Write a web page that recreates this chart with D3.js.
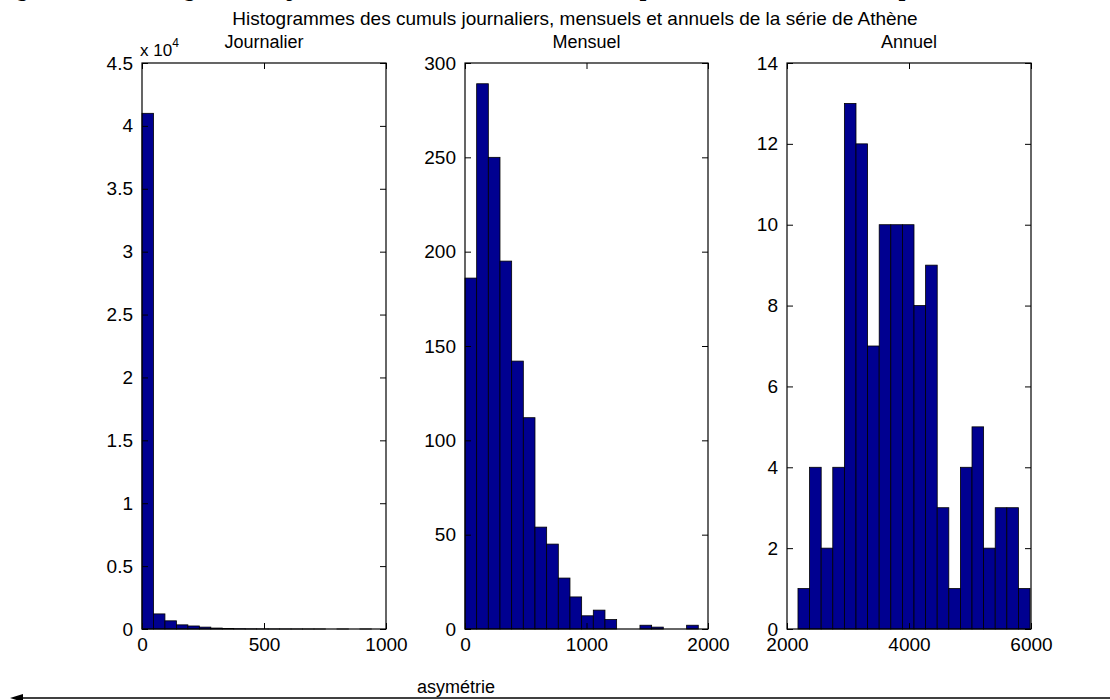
<!DOCTYPE html>
<html>
<head>
<meta charset="utf-8">
<script src="https://cdn.jsdelivr.net/npm/d3@7"></script>
<style>
  html, body { margin: 0; padding: 0; background: #fff; }
  svg { display: block; }
  text { font-family: "Liberation Sans", Arial, Helvetica, sans-serif; fill: #000; }
</style>
</head>
<body>
<svg id="fig" width="1110" height="700"></svg>
<script>
// Histogram counts (20 bins each) for daily, monthly and annual rainfall totals
const dailyCounts   = [41000, 1200, 650, 330, 240, 150, 75, 40, 20, 10, 6, 4, 3, 2, 1, 1, 0, 1, 0, 1];
const monthlyCounts = [186, 289, 250, 195, 142, 112, 54, 45, 27, 17, 7, 10, 5, 0, 0, 2, 1, 0, 0, 2];
const annualCounts  = [1, 4, 2, 4, 13, 12, 7, 10, 10, 10, 8, 9, 3, 1, 4, 5, 2, 3, 3, 1];

// Bin layout: lowest edge and bin width of each histogram
const dailyBins   = { start: 0,    width: 47 };
const monthlyBins = { start: 0,    width: 96 };
const annualBins  = { start: 2180, width: 190.2 };

// Axis tick values
const dailyXTicks   = [0, 500, 1000];
const dailyYTicks   = [0, 5000, 10000, 15000, 20000, 25000, 30000, 35000, 40000, 45000];
const monthlyXTicks = [0, 1000, 2000];
const monthlyYTicks = [0, 50, 100, 150, 200, 250, 300];
const annualXTicks  = [2000, 4000, 6000];
const annualYTicks  = [0, 2, 4, 6, 8, 10, 12, 14];

const panelTitles = ["Journalier", "Mensuel", "Annuel"];
const mainTitle = "Histogrammes des cumuls journaliers, mensuels et annuels de la série de Athène";
const captionText = "Figure 2.3 – Histogrammes journaliers, mensuels et annuels pour la série d'Athènes (période 1899–2010)";

const svg = d3.select("#fig");
const barFill = "#000090";
const plotTop = 63, plotBottom = 629;

const panels = [
  { counts: dailyCounts, bins: dailyBins, xDomain: [0, 1000], yDomain: [0, 45000],
    xTicks: dailyXTicks, yTicks: dailyYTicks, left: 142, right: 386,
    yFmt: d => d3.format("~g")(d / 10000), exponent: "4" },
  { counts: monthlyCounts, bins: monthlyBins, xDomain: [0, 2000], yDomain: [0, 300],
    xTicks: monthlyXTicks, yTicks: monthlyYTicks, left: 465, right: 708,
    yFmt: d3.format("d") },
  { counts: annualCounts, bins: annualBins, xDomain: [2000, 6000], yDomain: [0, 14],
    xTicks: annualXTicks, yTicks: annualYTicks, left: 787, right: 1031,
    yFmt: d3.format("d") }
];

// Caption line of the surrounding document, running off the top edge
svg.append("text")
  .attr("x", -4).attr("y", -4)
  .attr("textLength", 1112)
  .attr("lengthAdjust", "spacingAndGlyphs")
  .style("font-family", "'DejaVu Serif', 'Liberation Serif', serif")
  .style("font-weight", "bold")
  .style("font-size", "22px")
  .text(captionText);

// Figure title
svg.append("text")
  .attr("x", 575).attr("y", 25)
  .attr("text-anchor", "middle")
  .style("font-size", "19px")
  .text(mainTitle);

const tickLen = 6;

panels.forEach((p, i) => {
  const x = d3.scaleLinear().domain(p.xDomain).range([p.left, p.right]);
  const y = d3.scaleLinear().domain(p.yDomain).range([plotBottom, plotTop]);
  const g = svg.append("g");

  // Bars
  const bars = p.counts.map((c, k) => ({
    x0: p.bins.start + k * p.bins.width,
    x1: p.bins.start + (k + 1) * p.bins.width,
    count: c
  }));
  g.selectAll("rect.bar").data(bars).join("rect")
    .attr("class", "bar")
    .attr("x", d => x(d.x0))
    .attr("y", d => y(d.count))
    .attr("width", d => x(d.x1) - x(d.x0))
    .attr("height", d => y(0) - y(d.count))
    .attr("fill", barFill)
    .attr("stroke", "#000")
    .attr("stroke-width", 0.8);

  // Axes: labels on left and bottom, inward ticks on all four sides
  const yLeft = d3.axisLeft(y).tickValues(p.yTicks).tickFormat(p.yFmt).tickSizeInner(-tickLen).tickSizeOuter(0).tickPadding(9);
  const yRight = d3.axisRight(y).tickValues(p.yTicks).tickFormat("").tickSizeInner(-tickLen).tickSizeOuter(0);
  const xBottom = d3.axisBottom(x).tickValues(p.xTicks).tickFormat(d3.format("d")).tickSizeInner(-tickLen).tickSizeOuter(0).tickPadding(9);
  const xTop = d3.axisTop(x).tickValues(p.xTicks).tickFormat("").tickSizeInner(-tickLen).tickSizeOuter(0);

  const axes = [
    g.append("g").attr("transform", `translate(${p.left},0)`).call(yLeft),
    g.append("g").attr("transform", `translate(${p.right},0)`).call(yRight),
    g.append("g").attr("transform", `translate(0,${plotBottom})`).call(xBottom),
    g.append("g").attr("transform", `translate(0,${plotTop})`).call(xTop)
  ];
  axes.forEach(a => {
    a.select(".domain").remove();
    a.selectAll("line").attr("stroke", "#000").attr("stroke-width", 1);
    a.selectAll("text").style("font-size", "19px").style("font-family", "'Liberation Sans', Arial, sans-serif").attr("fill", "#000");
  });

  // Axes box
  g.append("rect")
    .attr("x", p.left).attr("y", plotTop)
    .attr("width", p.right - p.left).attr("height", plotBottom - plotTop)
    .attr("fill", "none").attr("stroke", "#000").attr("stroke-width", 1.2);

  // Panel title
  g.append("text")
    .attr("x", (p.left + p.right) / 2).attr("y", 48)
    .attr("text-anchor", "middle")
    .style("font-size", "18px")
    .text(panelTitles[i]);

  // Exponent label of the y axis
  if (p.exponent) {
    const t = g.append("text").attr("x", p.left - 2).attr("y", 56).style("font-size", "17px");
    t.append("tspan").text("x 10");
    t.append("tspan").attr("dy", -9).style("font-size", "12px").text(p.exponent);
  }
});

// Bottom annotation with left arrow
svg.append("text")
  .attr("x", 456).attr("y", 693)
  .attr("text-anchor", "middle")
  .style("font-size", "18px")
  .text("asymétrie");

svg.append("line")
  .attr("x1", 14).attr("x2", 1110)
  .attr("y1", 698).attr("y2", 698)
  .attr("stroke", "#000").attr("stroke-width", 1.5);

svg.append("path")
  .attr("d", d3.line()([[10, 698], [23, 694], [23, 702]]) + "Z")
  .attr("fill", "#000");
</script>
</body>
</html>
